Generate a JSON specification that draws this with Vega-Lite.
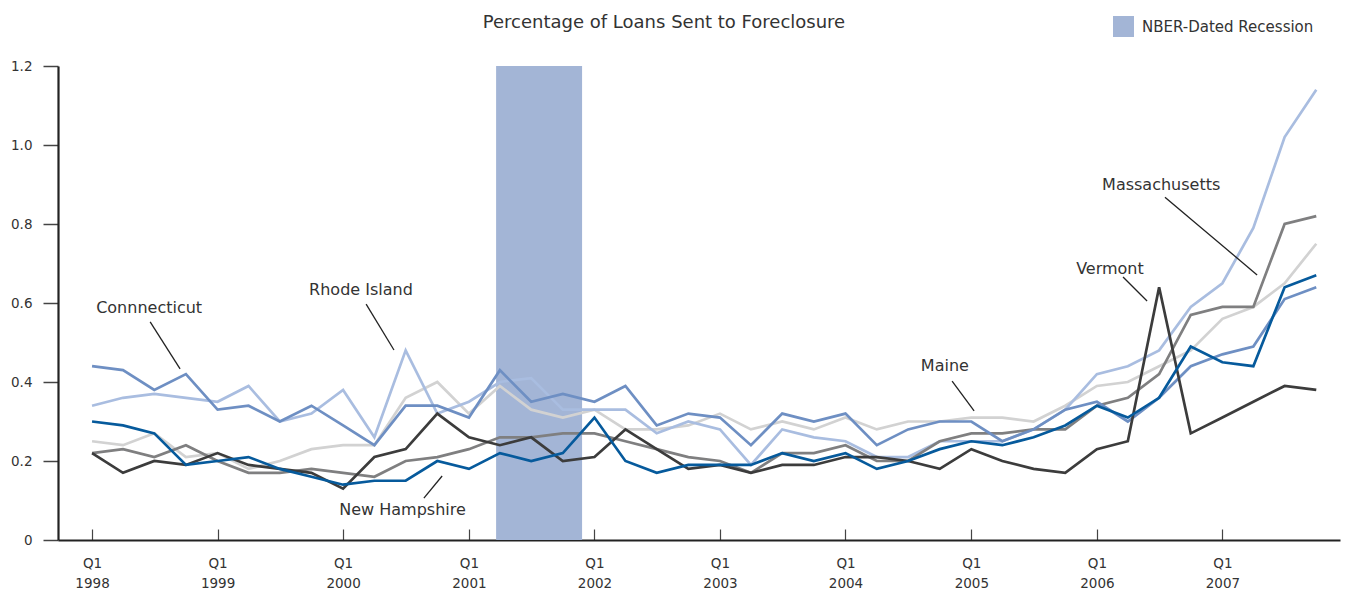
{
  "$schema": "https://vega.github.io/schema/vega-lite/v6.json",
  "width": 1282,
  "height": 474,
  "autosize": {"type": "none"},
  "padding": {"left": 58, "top": 66, "right": 23, "bottom": 54},
  "background": "white",
  "config": {"view": {"stroke": null}, "font": "DejaVu Sans"},
  "title": {
    "text": "Percentage of Loans Sent to Foreclosure",
    "font": "DejaVu Sans",
    "fontSize": 18,
    "fontWeight": "normal",
    "color": "#333333",
    "anchor": "middle",
    "frame": "group",
    "dx": -35,
    "dy": 29.5,
    "offset": 0,
    "baseline": "alphabetic"
  },
  "datasets": {
    "rates": [
      {"date": "1998-01-01", "Connecticut": 0.44, "Rhode Island": 0.34, "New Hampshire": 0.30, "Maine": 0.25, "Massachusetts": 0.22, "Vermont": 0.22},
      {"date": "1998-04-01", "Connecticut": 0.43, "Rhode Island": 0.36, "New Hampshire": 0.29, "Maine": 0.24, "Massachusetts": 0.23, "Vermont": 0.17},
      {"date": "1998-07-01", "Connecticut": 0.38, "Rhode Island": 0.37, "New Hampshire": 0.27, "Maine": 0.27, "Massachusetts": 0.21, "Vermont": 0.20},
      {"date": "1998-10-01", "Connecticut": 0.42, "Rhode Island": 0.36, "New Hampshire": 0.19, "Maine": 0.21, "Massachusetts": 0.24, "Vermont": 0.19},
      {"date": "1999-01-01", "Connecticut": 0.33, "Rhode Island": 0.35, "New Hampshire": 0.20, "Maine": 0.22, "Massachusetts": 0.20, "Vermont": 0.22},
      {"date": "1999-04-01", "Connecticut": 0.34, "Rhode Island": 0.39, "New Hampshire": 0.21, "Maine": 0.18, "Massachusetts": 0.17, "Vermont": 0.19},
      {"date": "1999-07-01", "Connecticut": 0.30, "Rhode Island": 0.30, "New Hampshire": 0.18, "Maine": 0.20, "Massachusetts": 0.17, "Vermont": 0.18},
      {"date": "1999-10-01", "Connecticut": 0.34, "Rhode Island": 0.32, "New Hampshire": 0.16, "Maine": 0.23, "Massachusetts": 0.18, "Vermont": 0.17},
      {"date": "2000-01-01", "Connecticut": 0.29, "Rhode Island": 0.38, "New Hampshire": 0.14, "Maine": 0.24, "Massachusetts": 0.17, "Vermont": 0.13},
      {"date": "2000-04-01", "Connecticut": 0.24, "Rhode Island": 0.26, "New Hampshire": 0.15, "Maine": 0.24, "Massachusetts": 0.16, "Vermont": 0.21},
      {"date": "2000-07-01", "Connecticut": 0.34, "Rhode Island": 0.48, "New Hampshire": 0.15, "Maine": 0.36, "Massachusetts": 0.20, "Vermont": 0.23},
      {"date": "2000-10-01", "Connecticut": 0.34, "Rhode Island": 0.32, "New Hampshire": 0.20, "Maine": 0.40, "Massachusetts": 0.21, "Vermont": 0.32},
      {"date": "2001-01-01", "Connecticut": 0.31, "Rhode Island": 0.35, "New Hampshire": 0.18, "Maine": 0.32, "Massachusetts": 0.23, "Vermont": 0.26},
      {"date": "2001-04-01", "Connecticut": 0.43, "Rhode Island": 0.40, "New Hampshire": 0.22, "Maine": 0.39, "Massachusetts": 0.26, "Vermont": 0.24},
      {"date": "2001-07-01", "Connecticut": 0.35, "Rhode Island": 0.41, "New Hampshire": 0.20, "Maine": 0.33, "Massachusetts": 0.26, "Vermont": 0.26},
      {"date": "2001-10-01", "Connecticut": 0.37, "Rhode Island": 0.33, "New Hampshire": 0.22, "Maine": 0.31, "Massachusetts": 0.27, "Vermont": 0.20},
      {"date": "2002-01-01", "Connecticut": 0.35, "Rhode Island": 0.33, "New Hampshire": 0.31, "Maine": 0.33, "Massachusetts": 0.27, "Vermont": 0.21},
      {"date": "2002-04-01", "Connecticut": 0.39, "Rhode Island": 0.33, "New Hampshire": 0.20, "Maine": 0.28, "Massachusetts": 0.25, "Vermont": 0.28},
      {"date": "2002-07-01", "Connecticut": 0.29, "Rhode Island": 0.27, "New Hampshire": 0.17, "Maine": 0.28, "Massachusetts": 0.23, "Vermont": 0.23},
      {"date": "2002-10-01", "Connecticut": 0.32, "Rhode Island": 0.30, "New Hampshire": 0.19, "Maine": 0.29, "Massachusetts": 0.21, "Vermont": 0.18},
      {"date": "2003-01-01", "Connecticut": 0.31, "Rhode Island": 0.28, "New Hampshire": 0.19, "Maine": 0.32, "Massachusetts": 0.20, "Vermont": 0.19},
      {"date": "2003-04-01", "Connecticut": 0.24, "Rhode Island": 0.19, "New Hampshire": 0.19, "Maine": 0.28, "Massachusetts": 0.17, "Vermont": 0.17},
      {"date": "2003-07-01", "Connecticut": 0.32, "Rhode Island": 0.28, "New Hampshire": 0.22, "Maine": 0.30, "Massachusetts": 0.22, "Vermont": 0.19},
      {"date": "2003-10-01", "Connecticut": 0.30, "Rhode Island": 0.26, "New Hampshire": 0.20, "Maine": 0.28, "Massachusetts": 0.22, "Vermont": 0.19},
      {"date": "2004-01-01", "Connecticut": 0.32, "Rhode Island": 0.25, "New Hampshire": 0.22, "Maine": 0.31, "Massachusetts": 0.24, "Vermont": 0.21},
      {"date": "2004-04-01", "Connecticut": 0.24, "Rhode Island": 0.21, "New Hampshire": 0.18, "Maine": 0.28, "Massachusetts": 0.20, "Vermont": 0.21},
      {"date": "2004-07-01", "Connecticut": 0.28, "Rhode Island": 0.21, "New Hampshire": 0.20, "Maine": 0.30, "Massachusetts": 0.20, "Vermont": 0.20},
      {"date": "2004-10-01", "Connecticut": 0.30, "Rhode Island": 0.25, "New Hampshire": 0.23, "Maine": 0.30, "Massachusetts": 0.25, "Vermont": 0.18},
      {"date": "2005-01-01", "Connecticut": 0.30, "Rhode Island": 0.25, "New Hampshire": 0.25, "Maine": 0.31, "Massachusetts": 0.27, "Vermont": 0.23},
      {"date": "2005-04-01", "Connecticut": 0.25, "Rhode Island": 0.25, "New Hampshire": 0.24, "Maine": 0.31, "Massachusetts": 0.27, "Vermont": 0.20},
      {"date": "2005-07-01", "Connecticut": 0.28, "Rhode Island": 0.28, "New Hampshire": 0.26, "Maine": 0.30, "Massachusetts": 0.28, "Vermont": 0.18},
      {"date": "2005-10-01", "Connecticut": 0.33, "Rhode Island": 0.33, "New Hampshire": 0.29, "Maine": 0.34, "Massachusetts": 0.28, "Vermont": 0.17},
      {"date": "2006-01-01", "Connecticut": 0.35, "Rhode Island": 0.42, "New Hampshire": 0.34, "Maine": 0.39, "Massachusetts": 0.34, "Vermont": 0.23},
      {"date": "2006-04-01", "Connecticut": 0.30, "Rhode Island": 0.44, "New Hampshire": 0.31, "Maine": 0.40, "Massachusetts": 0.36, "Vermont": 0.25},
      {"date": "2006-07-01", "Connecticut": 0.36, "Rhode Island": 0.48, "New Hampshire": 0.36, "Maine": 0.44, "Massachusetts": 0.42, "Vermont": 0.64},
      {"date": "2006-10-01", "Connecticut": 0.44, "Rhode Island": 0.59, "New Hampshire": 0.49, "Maine": 0.48, "Massachusetts": 0.57, "Vermont": 0.27},
      {"date": "2007-01-01", "Connecticut": 0.47, "Rhode Island": 0.65, "New Hampshire": 0.45, "Maine": 0.56, "Massachusetts": 0.59, "Vermont": 0.31},
      {"date": "2007-04-01", "Connecticut": 0.49, "Rhode Island": 0.79, "New Hampshire": 0.44, "Maine": 0.59, "Massachusetts": 0.59, "Vermont": 0.35},
      {"date": "2007-07-01", "Connecticut": 0.61, "Rhode Island": 1.02, "New Hampshire": 0.64, "Maine": 0.65, "Massachusetts": 0.80, "Vermont": 0.39},
      {"date": "2007-10-01", "Connecticut": 0.64, "Rhode Island": 1.14, "New Hampshire": 0.67, "Maine": 0.75, "Massachusetts": 0.82, "Vermont": 0.38}
    ],
    "recession": [
      {"date": "2001-03-21", "date2": "2001-11-26", "name": "NBER-Dated Recession"}
    ],
    "labels": [
      {"date": "1998-06-16", "value": 0.587, "label": "Connnecticut"},
      {"date": "2000-02-22", "value": 0.633, "label": "Rhode Island"},
      {"date": "2000-06-22", "value": 0.076, "label": "New Hampshire"},
      {"date": "2004-10-16", "value": 0.44, "label": "Maine"},
      {"date": "2006-02-08", "value": 0.686, "label": "Vermont"},
      {"date": "2006-07-07", "value": 0.9, "label": "Massachusetts"}
    ],
    "leaders": [
      {"date": "1998-06-19", "value": 0.552, "date2": "1998-09-14", "value2": 0.433},
      {"date": "2000-03-08", "value": 0.597, "date2": "2000-05-28", "value2": 0.481},
      {"date": "2000-10-15", "value": 0.162, "date2": "2000-08-23", "value2": 0.106},
      {"date": "2004-11-06", "value": 0.4025, "date2": "2005-01-09", "value2": 0.327},
      {"date": "2006-03-18", "value": 0.666, "date2": "2006-05-27", "value2": 0.605},
      {"date": "2006-07-18", "value": 0.868, "date2": "2007-04-12", "value2": 0.671}
    ]
  },
  "encoding": {
    "x": {
      "field": "date",
      "type": "temporal",
      "scale": {
        "domain": [{"year": 1997, "month": 9, "date": 24}, {"year": 2007, "month": 12, "date": 9}],
        "nice": false
      },
      "axis": {
        "title": null,
        "grid": false,
        "values": [{"year": 1998}, {"year": 1999}, {"year": 2000}, {"year": 2001}, {"year": 2002}, {"year": 2003}, {"year": 2004}, {"year": 2005}, {"year": 2006}, {"year": 2007}],
        "labelExpr": "['Q1', timeFormat(datum.value, '%Y')]",
        "labelFont": "DejaVu Sans",
        "labelFontSize": 13.5,
        "labelLineHeight": 20,
        "labelColor": "#333333",
        "labelPadding": 27,
        "labelFlush": false,
        "labelOverlap": false,
        "tickSize": -11,
        "tickColor": "#444444",
        "tickWidth": 1.2,
        "domainColor": "#222222",
        "domainWidth": 2.2
      }
    }
  },
  "layer": [
    {
      "data": {"name": "recession"},
      "mark": {"type": "rect", "opacity": 1},
      "encoding": {
        "x2": {"field": "date2"},
        "y": {"datum": 0, "type": "quantitative", "scale": {"domain": [0, 1.2], "nice": false}},
        "y2": {"datum": 1.2},
        "fill": {
          "field": "name",
          "type": "nominal",
          "scale": {"range": ["#a3b5d6"]},
          "legend": {
            "title": null,
            "orient": "none",
            "legendX": 1055,
            "legendY": -50,
            "padding": 0,
            "symbolType": "square",
            "symbolSize": 441,
            "symbolStrokeWidth": 0,
            "symbolOpacity": 1,
            "labelFont": "DejaVu Sans",
            "labelFontSize": 15,
            "labelColor": "#333333",
            "labelOffset": 8,
            "labelLimit": 400
          }
        }
      }
    },
    {
      "data": {"name": "rates"},
      "transform": [
        {"fold": ["Maine", "Rhode Island", "Massachusetts", "Connecticut", "Vermont", "New Hampshire"], "as": ["state", "value"]}
      ],
      "mark": {"type": "line", "strokeWidth": 2.7, "strokeJoin": "miter"},
      "encoding": {
        "y": {
          "field": "value",
          "type": "quantitative",
          "scale": {"domain": [0, 1.2], "nice": false},
          "axis": {
            "title": null,
            "grid": false,
            "values": [0, 0.2, 0.4, 0.6, 0.8, 1.0, 1.2],
            "labelExpr": "datum.value == 0 ? '0' : format(datum.value, '.1f')",
            "labelFont": "DejaVu Sans",
            "labelFontSize": 13.5,
            "labelColor": "#333333",
            "labelPadding": 11,
            "tickSize": 15,
            "tickColor": "#444444",
            "tickWidth": 1.5,
            "domainColor": "#222222",
            "domainWidth": 2.2
          }
        },
        "color": {
          "field": "state",
          "type": "nominal",
          "scale": {
            "domain": ["Maine", "Rhode Island", "Massachusetts", "Connecticut", "Vermont", "New Hampshire"],
            "range": ["#d2d2d2", "#a9bde0", "#7f7f80", "#6e8fc3", "#3c3c3c", "#065a9c"]
          },
          "legend": null
        }
      }
    },
    {
      "data": {"name": "leaders"},
      "mark": {"type": "rule", "color": "#222222", "strokeWidth": 1.3},
      "encoding": {
        "y": {"field": "value", "type": "quantitative"},
        "x2": {"field": "date2"},
        "y2": {"field": "value2"}
      }
    },
    {
      "data": {"name": "labels"},
      "mark": {"type": "text", "font": "DejaVu Sans", "fontSize": 16, "color": "#333333", "align": "center", "baseline": "middle"},
      "encoding": {
        "y": {"field": "value", "type": "quantitative"},
        "text": {"field": "label", "type": "nominal"}
      }
    }
  ]
}
